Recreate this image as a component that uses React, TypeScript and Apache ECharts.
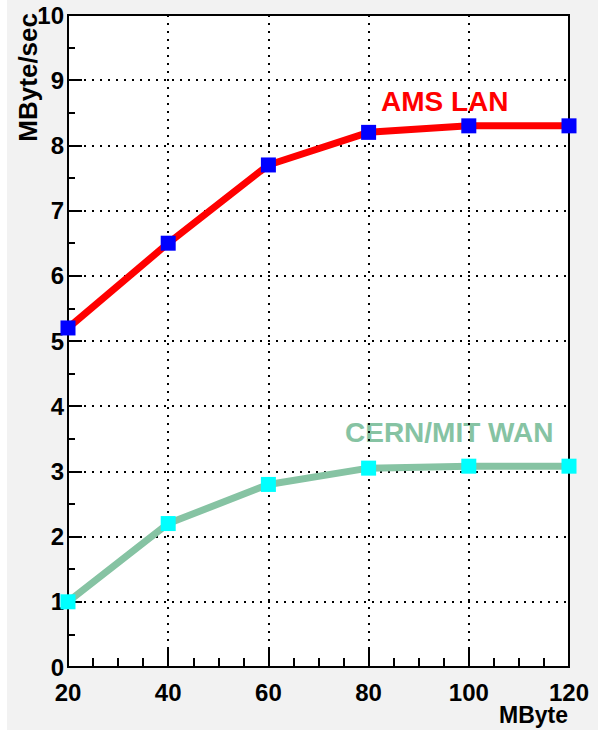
import React, { useEffect, useRef } from "react";
import * as echarts from "echarts";

const sizes = [20, 40, 60, 80, 100, 120];
const amsLan = [5.2, 6.5, 7.7, 8.2, 8.3, 8.3];
const cernMitWan = [1.0, 2.2, 2.8, 3.05, 3.08, 3.08];
const xTitle = "MByte";
const yTitle = "MByte/sec";
const amsName = "AMS LAN";
const cernName = "CERN/MIT WAN";

const FONT = "'Liberation Sans', Arial, sans-serif";

export default function App() {
  const ref = useRef<HTMLDivElement>(null);
  useEffect(() => {
    if (!ref.current) return;
    const chart = echarts.init(ref.current, null, { renderer: "svg" });
    chart.setOption({
      animation: false,
      backgroundColor: "#f2f2f2",
      grid: {
        left: 61,
        right: 29,
        top: 15,
        bottom: 63,
        show: true,
        backgroundColor: "#ffffff",
        borderColor: "#000000",
        borderWidth: 2,
      },
      xAxis: {
        type: "value",
        min: 20,
        max: 120,
        interval: 20,
        axisLine: { show: true, onZero: false, lineStyle: { color: "#000", width: 2 } },
        axisTick: { show: true, inside: true, length: 20, lineStyle: { color: "#000", width: 2 } },
        minorTick: { show: true, splitNumber: 4, length: 9, lineStyle: { color: "#000", width: 2 } },
        splitLine: { show: true, lineStyle: { color: "#000", width: 2, type: [2, 6] } },
        axisLabel: {
          color: "#000",
          fontFamily: FONT,
          fontWeight: "bold",
          fontSize: 24,
          lineHeight: 18,
          margin: 16,
        },
      },
      yAxis: {
        type: "value",
        min: 0,
        max: 10,
        interval: 1,
        axisLine: { show: true, onZero: false, lineStyle: { color: "#000", width: 2 } },
        axisTick: { show: true, inside: true, length: 14, lineStyle: { color: "#000", width: 2 } },
        minorTick: { show: true, splitNumber: 2, length: 7, lineStyle: { color: "#000", width: 2 } },
        splitLine: { show: true, lineStyle: { color: "#000", width: 2, type: [2, 6] } },
        axisLabel: {
          color: "#000",
          fontFamily: FONT,
          fontWeight: "bold",
          fontSize: 24,
          lineHeight: 18,
          margin: 4,
        },
      },
      series: [
        {
          name: amsName,
          type: "line",
          data: sizes.map((s, i) => [s, amsLan[i]]),
          lineStyle: { color: "#ff0000", width: 7 },
          itemStyle: { color: "#0000ff" },
          symbol: "rect",
          symbolSize: 15,
          showAllSymbol: true,
          z: 3,
        },
        {
          name: cernName,
          type: "line",
          data: sizes.map((s, i) => [s, cernMitWan[i]]),
          lineStyle: { color: "#86c3a3", width: 7 },
          itemStyle: { color: "#00ffff" },
          symbol: "rect",
          symbolSize: 15,
          showAllSymbol: true,
          z: 3,
        },
      ],
      graphic: [
        {
          type: "text",
          left: 374,
          top: 87,
          style: { text: amsName, fill: "#ff0000", font: `bold 28px ${FONT}` },
        },
        {
          type: "text",
          left: 338,
          top: 418,
          style: { text: cernName, fill: "#86c3a3", font: `bold 28px ${FONT}` },
        },
        {
          type: "text",
          x: 561,
          y: 715,
          style: {
            text: xTitle,
            fill: "#000",
            font: `bold 23px ${FONT}`,
            textAlign: "right",
            textVerticalAlign: "middle",
          },
        },
        {
          type: "text",
          x: 21,
          y: 13,
          rotation: Math.PI / 2,
          style: {
            text: yTitle,
            fill: "#000",
            font: `bold 26px ${FONT}`,
            textAlign: "right",
            textVerticalAlign: "middle",
          },
        },
      ],
    });
    return () => chart.dispose();
  }, []);
  return (
    <div
      ref={ref}
      style={{ position: "fixed", left: 7, top: 0, width: 591, height: 730 }}
    />
  );
}
